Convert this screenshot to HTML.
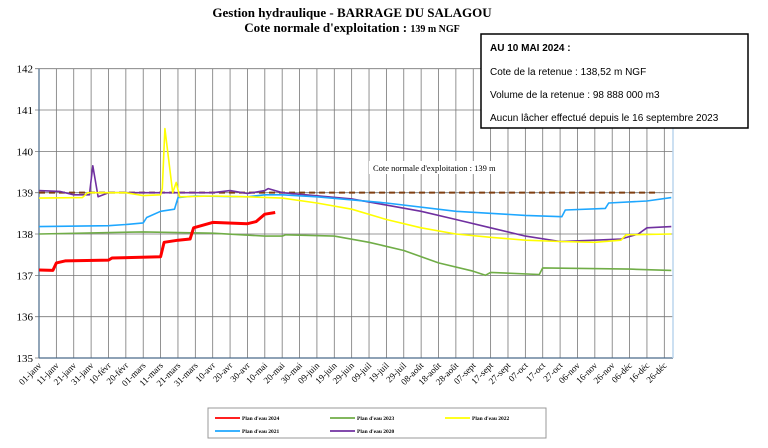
<!DOCTYPE html>
<html><head><meta charset="utf-8"><style>
body{margin:0;background:#fff;width:768px;height:443px;overflow:hidden;font-family:"Liberation Serif",serif}
</style></head><body>
<svg width="768" height="443" xmlns="http://www.w3.org/2000/svg">
<text x="352" y="17" text-anchor="middle" font-family="Liberation Serif" font-weight="bold" font-size="13">Gestion hydraulique - BARRAGE DU SALAGOU</text>
<text x="352" y="32" text-anchor="middle" font-family="Liberation Serif" font-weight="bold" font-size="13">Cote normale d'exploitation : <tspan font-size="10">139 m NGF</tspan></text>
<g id="grid"></g>
<g id="series"></g>
<g id="labels"></g>
<rect x="481" y="34" width="267" height="94" fill="#fff" stroke="#000" stroke-width="1.5"/>
<g font-family="Liberation Sans" font-size="10">
<text x="490" y="51" font-weight="bold">AU 10 MAI 2024 :</text>
<text x="490" y="75">Cote de la retenue : 138,52 m NGF</text>
<text x="490" y="98">Volume de la retenue : 98 888 000 m3</text>
<text x="490" y="121">Aucun lâcher effectué depuis le 16 septembre 2023</text>
</g>
<rect x="208" y="408" width="338" height="30" fill="#fff" stroke="#999"/>
<g id="legend" font-family="Liberation Serif" font-size="5.5" font-weight="bold"></g>
</svg>
<script>
const yTicks=[135,136,137,138,139,140,141,142];
const xLabels=["01-janv","11-janv","21-janv","31-janv","10-févr","20-févr","01-mars","11-mars","21-mars","31-mars","10-avr","20-avr","30-avr","10-mai","20-mai","30-mai","09-juin","19-juin","29-juin","09-juil","19-juil","29-juil","08-août","18-août","28-août","07-sept","17-sept","27-sept","07-oct","17-oct","27-oct","06-nov","16-nov","26-nov","06-déc","16-déc","26-déc"];
const seriesNames=["Plan d'eau 2024","Plan d'eau 2023","Plan d'eau 2022","Plan d'eau 2021","Plan d'eau 2020"];
const s2024=[[0,137.13],[8,137.12],[10,137.3],[15,137.35],[40,137.37],[42,137.42],[70,137.45],[72,137.8],[80,137.85],[87,137.88],[89,138.15],[100,138.28],[120,138.25],[125,138.3],[130,138.48],[136,138.52]];
const s2023=[[0,138],[60,138.05],[100,138.02],[130,137.95],[140,137.95],[142,137.98],[170,137.95],[190,137.8],[210,137.6],[230,137.3],[250,137.1],[257,137.0],[260,137.07],[288,137.02],[290,137.18],[340,137.15],[364,137.12]];
const s2022=[[0,138.87],[25,138.88],[28,139.0],[50,139.0],[60,138.93],[70,138.95],[71,139.1],[72.5,140.55],[77,139.0],[79,139.25],[81,138.9],[100,138.92],[120,138.9],[140,138.87],[160,138.75],[180,138.6],[200,138.35],[220,138.15],[240,138.0],[260,137.92],[280,137.85],[300,137.82],[320,137.8],[335,137.85],[338,137.98],[364,138.0]];
const s2021=[[0,138.18],[40,138.2],[50,138.23],[60,138.27],[62,138.4],[70,138.55],[78,138.6],[80,138.88],[90,138.92],[120,138.9],[130,138.95],[140,138.95],[160,138.9],[200,138.75],[240,138.55],[280,138.45],[301,138.42],[303,138.58],[326,138.62],[328,138.75],[350,138.8],[364,138.88]];
const s2020=[[0,139.05],[12,139.03],[20,138.95],[29,138.95],[31,139.65],[34,138.9],[40,139.0],[60,139.0],[100,139.0],[110,139.05],[120,138.98],[130,139.05],[132,139.1],[140,139.0],[180,138.85],[200,138.7],[220,138.55],[240,138.35],[260,138.15],[280,137.95],[300,137.82],[320,137.85],[335,137.88],[345,138.0],[350,138.15],[364,138.18]];
const colors=["#ff0000","#70ad47","#ffff00","#1ea7ff","#7030a0"];
const allSeries=[s2024,s2023,s2022,s2021,s2020];
const X0=39,X1=673,Y0=358,Y1=68.7;
const xs=d=>X0+d*(X1-X0)/365;
const ys=v=>Y0-(v-135)*(Y0-Y1)/7;
const NS="http://www.w3.org/2000/svg";
function mk(t,a,p){const e=document.createElementNS(NS,t);for(const k in a)e.setAttribute(k,a[k]);p.appendChild(e);return e;}
const grid=document.getElementById('grid'),ser=document.getElementById('series'),lab=document.getElementById('labels'),leg=document.getElementById('legend');
for(let i=0;i<xLabels.length;i++){const x=xs(i*10);
 const l=mk('line',{x1:x,x2:x,y1:Y1,y2:Y0,stroke:'#777','stroke-width':0.8},grid);
 
 
 const t=mk('text',{x:x+3,y:Y0+8,'text-anchor':'end','font-size':9,transform:`rotate(-45 ${x+3} ${Y0+8})`},lab);
 t.textContent=xLabels[i];
 
 
}
for(const v of yTicks){const y=ys(v);
 const l=mk('line',{x1:X0-4,x2:X1,y1:y,y2:y,stroke:'#777','stroke-width':0.8},grid);
 
 
 const t=mk('text',{x:X0-6,y:y+4,'text-anchor':'end','font-size':11},lab);
 t.textContent=v;
 
 
}
const ax=mk('line',{x1:X0,x2:X1,y1:Y0,y2:Y0,stroke:'#4a6a8a','stroke-width':1.2},grid);


const ay=mk('line',{x1:X0,x2:X0,y1:Y1,y2:Y0,stroke:'#4a6a8a','stroke-width':1.2},grid);


const rb=mk('line',{x1:X1,x2:X1,y1:Y1,y2:Y0,stroke:'#bcd6ee','stroke-width':1.5},grid);


const ref=mk('line',{x1:X0,x2:xs(357),y1:ys(139),y2:ys(139),stroke:'#7f3f10','stroke-width':2,'stroke-dasharray':'6,4'},ser);


const rl=mk('rect',{x:369,y:161,width:130,height:13,fill:'#fff'},ser);


const rt=mk('text',{x:373,y:171,'font-size':8.5},ser);
rt.textContent="Cote normale d'exploitation : 139 m";


for(let s=allSeries.length-1;s>=0;s--){
 const d=allSeries[s].map((p,i)=>(i?'L':'M')+xs(p[0]).toFixed(1)+' '+ys(p[1]).toFixed(1)).join(' ');
 const p=mk('path',{d:d,fill:'none',stroke:colors[s],'stroke-width':s==0?3:1.6,'stroke-linejoin':'round'},ser);
 
 
}
const lpos=[[240,418],[355,418],[470,418],[240,431],[355,431]];
for(let s=0;s<5;s++){const [x,y]=lpos[s];
 const l=mk('line',{x1:x-25,x2:x,y1:y,y2:y,stroke:colors[s],'stroke-width':1.8},leg);
 
 
 const t=mk('text',{x:x+2,y:y+2},leg);
 t.textContent=seriesNames[s];
 
 
}
</script>
</body></html>
